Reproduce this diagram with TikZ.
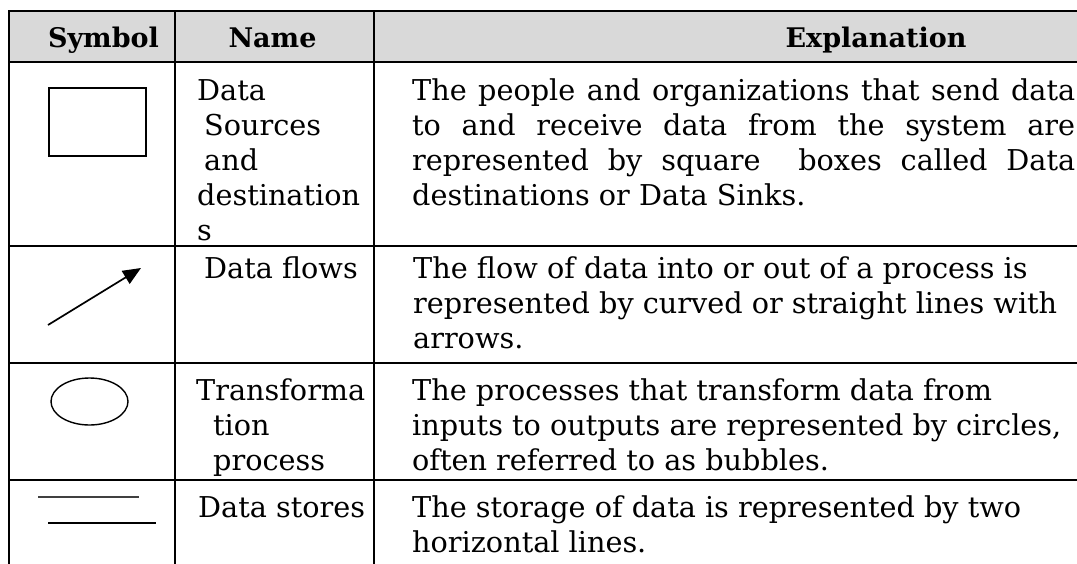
\documentclass[tikz,border=0pt]{standalone}
\usepackage{fontspec}
\setmainfont{DejaVu Serif}
\usetikzlibrary{arrows.meta}
\definecolor{headgray}{HTML}{D9D9D9}
\begin{document}
\begin{tikzpicture}[x=1pt,y=-1pt,
  gridline/.style={line width=2.2pt},
  headtxt/.style={font=\fontsize{27}{32}\selectfont\bfseries, anchor=base, inner sep=0pt},
  txt/.style={font=\fontsize{28.7}{35}\selectfont, anchor=base west, inner sep=0pt},
  symline/.style={line width=1.4pt}]
\useasboundingbox (0,0) rectangle (1077,563);
% header background
\fill[headgray] (9,11) rectangle (1080,62);
% horizontal rules
\foreach \yy in {11,62,246,363,480}{\draw[gridline] (8,\yy) -- (1080,\yy);}
% vertical rules
\foreach \xx in {9,175,374}{\draw[gridline] (\xx,10) -- (\xx,565);}
% header
\node[headtxt] (hsym) at (103.5,47) {Symbol};
\node[headtxt] (hname) at (272.5,47) {Name};
\node[headtxt] (hexp) at (876,47) {Explanation};
% row 1
\node[draw, symline, minimum width=97pt, minimum height=68pt, inner sep=0pt] (srcbox) at (97.5,122) {};
\node[txt] (n1a) at (197,100) {Data};
\node[txt] (n1b) at (204,135) {Sources};
\node[txt] (n1c) at (204,170) {and};
\node[txt] (n1d) at (197,205) {destination};
\node[txt] (n1e) at (197,240) {s};
\node[txt] (e1a) at (412,100) {\makebox[663pt][s]{The people and organizations that send data}};
\node[txt] (e1b) at (412,135) {\makebox[663pt][s]{to and receive data from the system are}};
\node[txt] (e1c) at (412,170) {\makebox[663pt][s]{represented by square\ \ boxes called Data}};
\node[txt] (e1d) at (412,205) {destinations or Data Sinks.};
% row 2
\coordinate (fa) at (48,325);
\coordinate (fb) at (141,268);
\draw[line width=1.7pt,-{Triangle[length=18pt,width=15pt]}] (fa) -- (fb);
\node[txt] (n2a) at (204,278) {Data flows};
\node[txt] (e2a) at (413,278) {The flow of data into or out of a process is};
\node[txt] (e2b) at (413,313) {represented by curved or straight lines with};
\node[txt] (e2c) at (413,348) {arrows.};
% row 3
\draw[symline] (89.5,401.5) ellipse [x radius=38.5pt, y radius=23.5pt];
\node[txt] (n3a) at (196,400) {Transforma};
\node[txt] (n3b) at (213,435) {tion};
\node[txt] (n3c) at (213,470) {process};
\node[txt] (e3a) at (412,400) {The processes that transform data from};
\node[txt] (e3b) at (412,435) {inputs to outputs are represented by circles,};
\node[txt] (e3c) at (412,470) {often referred to as bubbles.};
% row 4
\coordinate (s1a) at (38,497);
\coordinate (s1b) at (139,497);
\coordinate (s2a) at (48,523);
\coordinate (s2b) at (156,523);
\draw[line width=1.5pt, black!75] (s1a) -- (s1b);
\draw[line width=2pt] (s2a) -- (s2b);
\node[txt] (n4a) at (198,517) {Data stores};
\node[txt] (e4a) at (412,517) {The storage of data is represented by two};
\node[txt] (e4b) at (412,552) {horizontal lines.};
\end{tikzpicture}
\end{document}
